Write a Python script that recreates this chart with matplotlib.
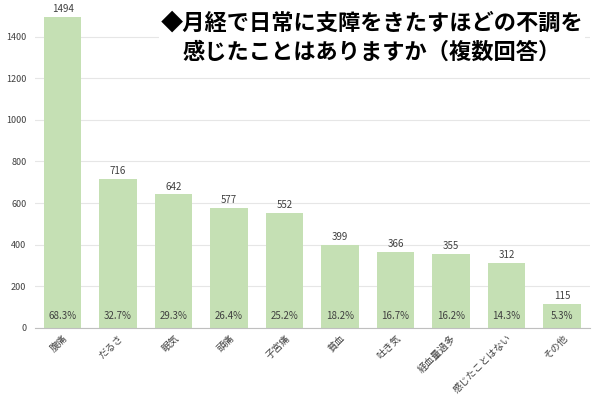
import matplotlib
matplotlib.use('Agg')
import matplotlib.pyplot as plt
import numpy as np

plt.rcParams['font.family'] = ['Noto Sans CJK JP', 'DejaVu Sans']

categories = ['腹痛', 'だるさ', '眠気', '頭痛', '子宮痛', '貧血', '吐き気',
              '経血量過多', '感じたことはない', 'その他']
counts = [1494, 716, 642, 577, 552, 399, 366, 355, 312, 115]
percents = ['68.3%', '32.7%', '29.3%', '26.4%', '25.2%', '18.2%', '16.7%',
            '16.2%', '14.3%', '5.3%']

fig = plt.figure(figsize=(6, 3.96), dpi=100)
ax = fig.add_axes([0.058, 0.172, 0.925, 0.788])

x = np.arange(len(categories))
bars = ax.bar(x, counts, width=0.67, color='#C5E0B4', zorder=2)

for rect, c, p in zip(bars, counts, percents):
    cx = rect.get_x() + rect.get_width() / 2
    ax.annotate(f'{c}', xy=(cx, c), xytext=(0, 2), textcoords='offset points',
                ha='center', va='bottom', fontsize=7, color='#404040')
    ax.text(cx, 55, p, ha='center', va='center', fontsize=7, color='#404040')

ax.set_xlim(-0.5, len(categories) - 0.5)
ax.set_ylim(0, 1500)
ax.set_yticks(range(0, 1401, 200))
ax.yaxis.grid(True, color='#E6E6E6', linewidth=0.8, zorder=0)
ax.set_axisbelow(True)
for s in ['top', 'right', 'left']:
    ax.spines[s].set_visible(False)
ax.spines['bottom'].set_color('#BFBFBF')
ax.tick_params(axis='y', length=0, labelsize=6.5, labelcolor='#404040', pad=6)
ax.tick_params(axis='x', length=0, labelsize=7, labelcolor='#404040')
ax.set_xticks(x)
ax.set_xticklabels(categories, rotation=45, ha='right', rotation_mode='anchor')

fig.text(0.62, 0.905, '◆月経で日常に支障をきたすほどの不調を\n感じたことはありますか（複数回答）',
         ha='center', va='center', fontsize=16, fontweight='bold', color='black',
         linespacing=1.3,
         bbox=dict(facecolor='white', edgecolor='none', pad=1))

plt.savefig('out.png', dpi=100)
